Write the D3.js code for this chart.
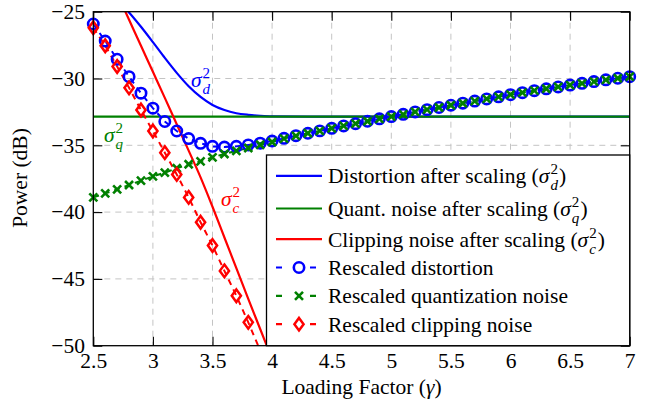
<!DOCTYPE html>
<html>
<head>
<meta charset="utf-8">
<script src="https://cdn.jsdelivr.net/npm/d3@7"></script>
<style>
body { margin: 0; background: #fff; }
svg { display: block; }
</style>
</head>
<body>
<div id="chart"></div>
<script>
// values
var gamma = [2.5, 2.6, 2.7, 2.8, 2.9, 3.0, 3.1, 3.2, 3.3, 3.4, 3.5, 3.6, 3.7, 3.8, 3.9,
             4.0, 4.1, 4.2, 4.3, 4.4, 4.5, 4.6, 4.7, 4.8, 4.9, 5.0, 5.1, 5.2, 5.3, 5.4,
             5.5, 5.6, 5.7, 5.8, 5.9, 6.0, 6.1, 6.2, 6.3, 6.4, 6.5, 6.6, 6.7, 6.8, 6.9, 7.0];
var rescaledDistortion = [-25.92, -27.2, -28.56, -29.86, -31.1, -32.22, -33.22, -33.93, -34.5, -34.85,
                          -35.08, -35.13, -35.08, -34.97, -34.84, -34.68, -34.48, -34.28, -34.1, -33.92,
                          -33.73, -33.55, -33.38, -33.2, -33.02, -32.85, -32.68, -32.5, -32.33, -32.17,
                          -32.0, -31.85, -31.69, -31.53, -31.37, -31.21, -31.06, -30.91, -30.77, -30.63,
                          -30.49, -30.36, -30.23, -30.1, -29.98, -29.86];
var rescaledQuant = [-38.9, -38.6, -38.3, -37.97, -37.65, -37.32, -37.05, -36.72, -36.42, -36.2,
                     -35.9, -35.65, -35.42, -35.2, -34.96, -34.75, -34.5, -34.29, -34.1, -33.92,
                     -33.73, -33.55, -33.38, -33.2, -33.02, -32.85, -32.68, -32.5, -32.33, -32.17,
                     -32.0, -31.85, -31.69, -31.53, -31.37, -31.21, -31.06, -30.91, -30.77, -30.63,
                     -30.49, -30.36, -30.23, -30.1, -29.98, -29.86];
var gammaClip = [2.5, 2.6, 2.7, 2.8, 2.9, 3.0, 3.1, 3.2, 3.3, 3.4, 3.5, 3.6, 3.7, 3.8, 3.9];
var rescaledClip = [-26.2, -27.55, -29.1, -30.7, -32.36, -33.93, -35.55, -37.18, -38.9, -40.76,
                    -42.5, -44.4, -46.26, -48.25, -50.36];

var gammaModel = [2.5, 2.6, 2.7, 2.8, 2.9, 3.0, 3.1, 3.2, 3.3, 3.4, 3.5, 3.6, 3.7, 3.8, 3.9, 4.0,
                  4.5, 5.0, 5.5, 6.0, 6.5, 7.0];
var distortionModel = [-22.69, -23.32, -24.12, -25.06, -26.13, -27.28, -28.46, -29.58, -30.58, -31.38, -31.98,
                       -32.36, -32.6, -32.72, -32.79, -32.83, -32.85, -32.85, -32.85, -32.85, -32.85, -32.85];
var quantModel = [-32.85, -32.85, -32.85, -32.85, -32.85, -32.85, -32.85, -32.85, -32.85, -32.85, -32.85,
                  -32.85, -32.85, -32.85, -32.85, -32.85, -32.85, -32.85, -32.85, -32.85, -32.85, -32.85];
var clipModel = [-19.9, -21.8, -23.65, -25.6, -27.55, -29.5, -31.45, -33.43, -35.4, -37.4, -39.6,
                 -41.9, -44.2, -46.5, -48.75, -51.0, null, null, null, null, null, null];

var xTicks = [2.5, 3, 3.5, 4, 4.5, 5, 5.5, 6, 6.5, 7];
var yTicks = [-25, -30, -35, -40, -45, -50];

var blue = "#0000ff", green = "#008000", red = "#ff0000";
var fs = 21.5;
var serif = "'Liberation Serif', 'Times New Roman', Tinos, 'DejaVu Serif', serif";

var W = 652, H = 407;
var pL = 93.3, pR = 629.7, pT = 11.7, pB = 345.7;

var svg = d3.select("#chart").append("svg")
    .attr("width", W)
    .attr("height", H)
    .style("font-family", serif);

var x = d3.scaleLinear().domain([2.5, 7]).range([pL, pR]);
var y = d3.scaleLinear().domain([-50, -25]).range([pB, pT]);

svg.append("clipPath").attr("id", "plotclip")
    .append("rect")
    .attr("x", pL).attr("y", pT)
    .attr("width", pR - pL).attr("height", pB - pT);

// grid
var grid = svg.append("g")
    .attr("stroke", "#c4c4c4")
    .attr("stroke-width", 1)
    .attr("stroke-dasharray", "6,5");
grid.selectAll(".vg").data(xTicks.slice(1, -1)).enter().append("line")
    .attr("x1", d => x(d)).attr("x2", d => x(d))
    .attr("y1", pT).attr("y2", pB);
grid.selectAll(".hg").data(yTicks.slice(1, -1)).enter().append("line")
    .attr("y1", d => y(d)).attr("y2", d => y(d))
    .attr("x1", pL).attr("x2", pR);

// axes
var tk = 9;
var axB = svg.append("g").attr("transform", "translate(0," + pB + ")")
    .call(d3.axisBottom(x).tickValues(xTicks).tickSize(-tk).tickPadding(7.2).tickFormat(d3.format("")));
var axL = svg.append("g").attr("transform", "translate(" + pL + ",0)")
    .call(d3.axisLeft(y).tickValues(yTicks).tickSize(-tk).tickPadding(8.3));
var axT = svg.append("g").attr("transform", "translate(0," + pT + ")")
    .call(d3.axisTop(x).tickValues(xTicks).tickSize(-tk).tickFormat(""));
var axR = svg.append("g").attr("transform", "translate(" + pR + ",0)")
    .call(d3.axisRight(y).tickValues(yTicks).tickSize(-tk).tickFormat(""));
[axB, axL, axT, axR].forEach(function (a) {
    a.attr("font-family", null);
    a.select(".domain").remove();
    a.selectAll(".tick line").attr("stroke", "#000").attr("stroke-width", 1.1);
    a.selectAll("text")
        .attr("font-size", fs)
        .attr("fill", "#000");
});

// series
var plot = svg.append("g");
var lineOf = function (xs, ys) {
    var pts = xs.map((g, i) => [g, ys[i]]);
    return d3.line()
        .defined(d => d[1] !== null)
        .x(d => x(d[0]))
        .y(d => y(d[1]))
        .curve(d3.curveMonotoneX)(pts);
};
var clipped = plot.append("g").attr("clip-path", "url(#plotclip)");

[[distortionModel, blue], [quantModel, green], [clipModel, red]].forEach(function (s) {
    clipped.append("path")
        .attr("d", lineOf(gammaModel, s[0]))
        .attr("fill", "none")
        .attr("stroke", s[1])
        .attr("stroke-width", 2.2);
});

var markPath = {
    circle: d3.symbol().type(d3.symbolCircle).size(Math.PI * 27)(),
    cross: "M-4,-4L4,4M-4,4L4,-4",
    diamond: "M0,-6.3L4.6,0L0,6.3L-4.6,0Z"
};
var markWidth = { circle: 2.6, cross: 2.6, diamond: 2.5 };

var rescaled = [
    { xs: gamma, ys: rescaledDistortion, color: blue, mark: "circle" },
    { xs: gamma, ys: rescaledQuant, color: green, mark: "cross" },
    { xs: gammaClip, ys: rescaledClip, color: red, mark: "diamond" }
];
rescaled.forEach(function (s) {
    clipped.append("path")
        .attr("d", d3.line().x((d, i) => x(s.xs[i])).y(d => y(d))(s.ys))
        .attr("fill", "none")
        .attr("stroke", s.color)
        .attr("stroke-width", 2)
        .attr("stroke-dasharray", "6,5");
    var pts = s.ys.map((v, i) => [s.xs[i], v]).filter(p => p[1] >= -50 && p[1] <= -25);
    plot.append("g").selectAll("path").data(pts).enter().append("path")
        .attr("transform", d => "translate(" + x(d[0]) + "," + y(d[1]) + ")")
        .attr("d", markPath[s.mark])
        .attr("fill", "none")
        .attr("stroke", s.color)
        .attr("stroke-width", markWidth[s.mark]);
});

// frame
svg.append("rect")
    .attr("x", pL).attr("y", pT)
    .attr("width", pR - pL).attr("height", pB - pT)
    .attr("fill", "none").attr("stroke", "#000").attr("stroke-width", 1.3);

// sigma^2_sub helper, returns end x
function sigma(g, x0, y0, sub, size, color) {
    var s = g.append("text").attr("x", x0).attr("y", y0)
        .attr("font-size", size).attr("font-style", "italic").attr("fill", color).text("σ");
    var w = s.node().getComputedTextLength() + 1;
    var a = g.append("text").attr("x", x0 + w).attr("y", y0 - size * 0.42)
        .attr("font-size", size * 0.7).attr("fill", color).text("2");
    var b = g.append("text").attr("x", x0 + w).attr("y", y0 + size * 0.33)
        .attr("font-size", size * 0.7).attr("font-style", "italic").attr("fill", color).text(sub);
    return x0 + w + Math.max(a.node().getComputedTextLength(), b.node().getComputedTextLength());
}

// curve labels
sigma(svg, 191, 87, "d", fs, blue);
sigma(svg, 104, 142, "q", fs, green);
sigma(svg, 221, 206, "c", fs, red);

// legend
var legendRows = [
    { text: "Distortion after scaling (", sub: "d", color: blue, dashed: false },
    { text: "Quant. noise after scaling (", sub: "q", color: green, dashed: false },
    { text: "Clipping noise after scaling (", sub: "c", color: red, dashed: false },
    { text: "Rescaled distortion", color: blue, dashed: true, mark: "circle" },
    { text: "Rescaled quantization noise", color: green, dashed: true, mark: "cross" },
    { text: "Rescaled clipping noise", color: red, dashed: true, mark: "diamond" }
];
var rowBase = [183.3, 216, 246.7, 275, 303.3, 331.7];

var lg = svg.append("g");
lg.append("rect")
    .attr("x", 266.5).attr("y", 155)
    .attr("width", pR - 266.5).attr("height", pB - 155)
    .attr("fill", "#fff").attr("stroke", "#000").attr("stroke-width", 1.3);

legendRows.forEach(function (r, i) {
    var by = rowBase[i];
    var ly = by - 7.5;
    lg.append("line")
        .attr("x1", 276).attr("x2", 322).attr("y1", ly).attr("y2", ly)
        .attr("stroke", r.color).attr("stroke-width", 2.2)
        .attr("stroke-dasharray", r.dashed ? "6,28" : null);
    if (r.mark) {
        lg.append("path")
            .attr("transform", "translate(299," + ly + ")")
            .attr("d", markPath[r.mark])
            .attr("fill", "none").attr("stroke", r.color)
            .attr("stroke-width", markWidth[r.mark]);
    }
    var t = lg.append("text").attr("x", 328).attr("y", by)
        .attr("font-size", fs).attr("fill", "#000").text(r.text);
    if (r.sub) {
        var ex = sigma(lg, 328 + t.node().getComputedTextLength(), by, r.sub, fs, "#000");
        lg.append("text").attr("x", ex + 1).attr("y", by)
            .attr("font-size", fs).attr("fill", "#000").text(")");
    }
});

// axis titles
var xt = svg.append("text")
    .attr("x", (pL + pR) / 2).attr("y", 394)
    .attr("text-anchor", "middle").attr("font-size", fs);
xt.append("tspan").text("Loading Factor (");
xt.append("tspan").attr("font-style", "italic").text("γ");
xt.append("tspan").text(")");

svg.append("text")
    .attr("transform", "translate(27,178) rotate(-90)")
    .attr("text-anchor", "middle").attr("font-size", fs)
    .text("Power (dB)");

svg.selectAll("text").style("font-family", serif);
</script>
</body>
</html>
